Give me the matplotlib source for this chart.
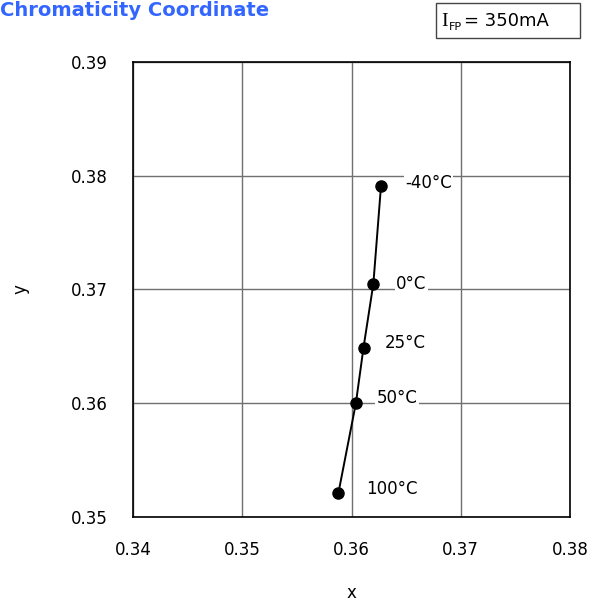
import matplotlib.pyplot as plt
import numpy as np
from matplotlib.patches import Rectangle

temps = ['-40°C', '0°C', '25°C', '50°C', '100°C']
cx = [0.3627, 0.3620, 0.3611, 0.3604, 0.3588]
cy = [0.3791, 0.3705, 0.3649, 0.3600, 0.3521]
# label offsets in data units
lab_dx = [0.0022, 0.0021, 0.0019, 0.0019, 0.0025]
lab_dy = [0.0003, 0.0000, 0.0004, 0.0005, 0.0004]

fig = plt.figure(figsize=(5.93, 6.05), dpi=100)
ax = fig.add_axes([133/593, 1-517/605, (570-133)/593, (517-62)/605])

ax.plot(cx, cy, color='black', linewidth=1.4, zorder=3)
ax.plot(cx, cy, 'o', color='black', markersize=8, zorder=4)
for t, px, py, dx, dy in zip(temps, cx, cy, lab_dx, lab_dy):
    ax.text(px + dx, py + dy, t, fontsize=12, va='center', ha='left', zorder=5,
            bbox=dict(facecolor='white', edgecolor='none', pad=1))

ax.set_xlim(0.34, 0.38)
ax.set_ylim(0.35, 0.39)
ax.set_xticks(np.arange(0.34, 0.3801, 0.01))
ax.set_yticks(np.arange(0.35, 0.3901, 0.01))
ax.set_xticklabels(['0.34', '0.35', '0.36', '0.37', '0.38'])
ax.set_yticklabels(['0.35', '0.36', '0.37', '0.38', '0.39'])
ax.tick_params(length=0, labelsize=12)
ax.tick_params(axis='x', pad=17.5)
ax.tick_params(axis='y', pad=18)
ax.grid(True, color='#707070', linewidth=1)
for s in ax.spines.values():
    s.set_linewidth(1.2)
ax.set_xlabel('x', fontsize=12, labelpad=18)
ax.set_ylabel('y', fontsize=12, labelpad=30, rotation=90)

fig.text(0.0, 1-11/605, 'Chromaticity Coordinate', color='#3366ff',
         fontsize=14, fontweight='bold', va='center', ha='left')

# condition box
fig.patches.append(Rectangle((436/593, 1-38/605), 144/593, 35/605,
                             transform=fig.transFigure, facecolor='white',
                             edgecolor='#444444', linewidth=1))
fig.text(441/593, 1-21/605, 'I', family='Liberation Serif', fontsize=14,
         va='center', ha='left')
fig.text(449/593, 1-27/605, 'FP', fontsize=8, va='center', ha='left')
fig.text(464/593, 1-21/605, '= 350mA', fontsize=13, va='center', ha='left')

fig.savefig('out.png', dpi=100)
